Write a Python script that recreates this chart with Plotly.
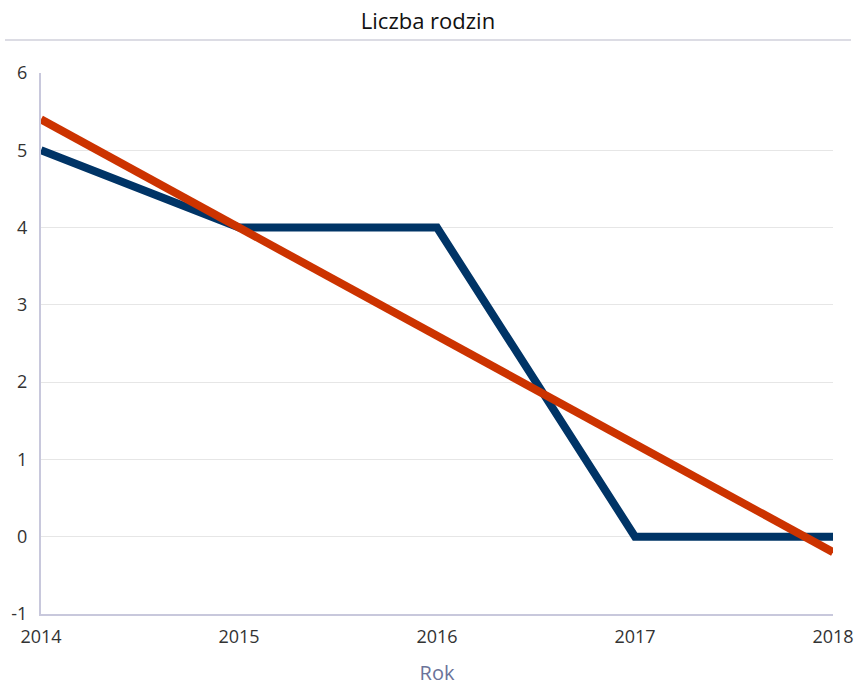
import plotly.graph_objects as go

years = [2014, 2015, 2016, 2017, 2018]
liczba_rodzin = [5, 4, 4, 0, 0]
trend = [5.4, 4.0, 2.6, 1.2, -0.2]
y_ticks = [-1, 0, 1, 2, 3, 4, 5, 6]
y_tick_labels = ["-1", "0", "1", "2", "3", "4", "5", "6"]

W, H = 856, 686
ml, mr, mt, mb = 41, 23, 73, 72
pw = W - ml - mr
ph = H - mt - mb

fig = go.Figure()
fig.add_trace(go.Scatter(x=years, y=liczba_rodzin, mode="lines",
                         line=dict(color="#003466", width=8), showlegend=False))
fig.add_trace(go.Scatter(x=years, y=trend, mode="lines",
                         line=dict(color="#cc3300", width=8), showlegend=False))

fig.update_layout(
    width=W, height=H,
    margin=dict(l=ml, r=mr, t=mt, b=mb, autoexpand=False),
    paper_bgcolor="white", plot_bgcolor="white",
    font=dict(family="Open Sans, sans-serif", color="#333333", size=18),
    title=dict(text="Liczba rodzin", x=0.5, xanchor="center", y=1 - 21 / H, yanchor="middle",
               font=dict(size=22, color="#111111")),
    xaxis=dict(range=[2014, 2018], tickvals=years, ticktext=[str(y) for y in years],
               showgrid=False, zeroline=False, showline=True, linecolor="#c8c8dc", linewidth=2,
               ticks="", tickfont=dict(size=18, color="#333333"), automargin=False,
               ticklabelstandoff=5,
               title=dict(text="Rok", font=dict(size=20, color="#6b7399"), standoff=23)),
    yaxis=dict(range=[-1, 6], tickvals=y_ticks, ticktext=y_tick_labels,
               showgrid=True, gridcolor="#e6e6e6", gridwidth=1,
               zeroline=False, showline=True, linecolor="#c8c8dc", linewidth=2,
               ticks="", tickfont=dict(size=18, color="#333333"), automargin=False,
               ticklabelstandoff=8),
)

fig.add_shape(type="line", xref="paper", yref="paper",
              x0=-(ml - 5) / pw, x1=1 + (mr - 5) / pw,
              y0=1 + (mt - 40) / ph, y1=1 + (mt - 40) / ph,
              line=dict(color="#dcdce4", width=2))

fig.write_html("out.html", config={"displayModeBar": False},
               post_script="document.body.style.margin='0';")
